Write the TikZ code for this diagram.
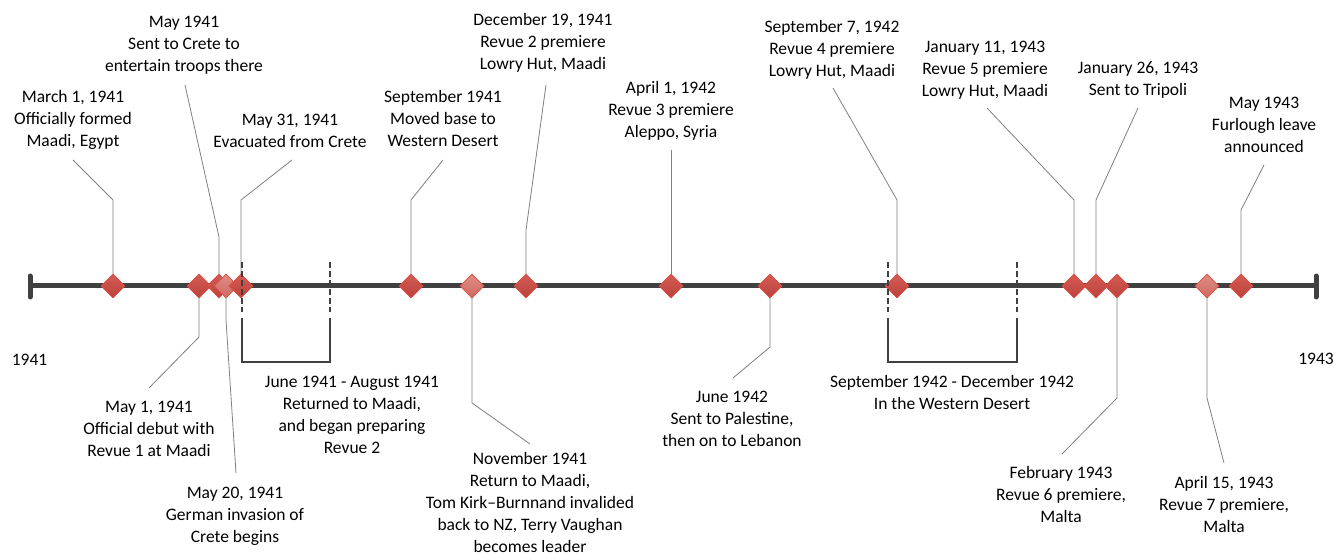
\documentclass[tikz,border=0pt]{standalone}
\usepackage{fontspec}
\setmainfont{Carlito}
\usetikzlibrary{shapes.geometric}
\definecolor{axisgray}{RGB}{64,64,64}
\definecolor{leadergray}{RGB}{128,128,128}
\definecolor{dmdline}{RGB}{222,76,66}
\definecolor{dmdtop}{RGB}{210,92,84}
\definecolor{dmdbot}{RGB}{188,66,60}
\definecolor{dmdltop}{RGB}{222,140,132}
\definecolor{dmdlbot}{RGB}{206,106,98}
\newcommand{\lblfont}{\fontsize{17.5}{22}\selectfont}
\tikzset{
  lbl/.style={font=\lblfont, align=center, inner sep=0pt, anchor=base, text=black},
  dmd/.style={diamond, minimum width=24pt, minimum height=24pt, inner sep=0pt, draw=dmdline, line width=0.8pt, top color=dmdtop, bottom color=dmdbot},
  dmdlight/.style={dmd, top color=dmdltop, bottom color=dmdlbot},
  leader/.style={draw=leadergray, line width=0.8pt},
  axisline/.style={draw=axisgray, line width=5pt},
  capline/.style={draw=axisgray, line width=5pt, line cap=round},
  bracketdash/.style={draw=axisgray, line width=1.4pt, dash pattern=on 6pt off 3pt},
  bracketline/.style={draw=axisgray, line width=1.4pt}
}
\begin{document}
\begin{tikzpicture}[x=1pt,y=-1pt]
\useasboundingbox[fill=white] (0,0) rectangle (1334,556);

% axis end points
\coordinate (L) at (30,286);
\coordinate (R) at (1316,286);
\coordinate (Lt) at (30,276);
\coordinate (Lb) at (30,297);
\coordinate (Rt) at (1316,276);
\coordinate (Rb) at (1316,297);

% elbows and tips of leaders
\coordinate (e1) at (113,200);  \coordinate (t1) at (73,160);
\coordinate (e3) at (219,237);  \coordinate (t3) at (185,85);
\coordinate (e5) at (241,200);  \coordinate (t5) at (292,160);
\coordinate (e6) at (411,200);  \coordinate (t6) at (443,160);
\coordinate (e8) at (526,230);  \coordinate (t8) at (546,85);
\coordinate (t9) at (671,150);
\coordinate (e11) at (897,200); \coordinate (t11) at (833,88);
\coordinate (e12) at (1074,200);\coordinate (t12) at (987,108);
\coordinate (e13) at (1096,200);\coordinate (t13) at (1138,108);
\coordinate (e16) at (1241,210);\coordinate (t16) at (1264,165);
\coordinate (e2) at (199,337);  \coordinate (t2) at (149,388);
\coordinate (e4) at (226,320);  \coordinate (t4) at (236,473);
\coordinate (e7) at (472,403);  \coordinate (t7) at (530,444);
\coordinate (e10) at (770,347); \coordinate (t10) at (733,378);
\coordinate (e14) at (1117,398);\coordinate (t14) at (1062,454);
\coordinate (e15) at (1207,398);\coordinate (t15) at (1224,463);

% diamond positions
\path (113,286) coordinate (p1) (199,286) coordinate (p2) (219,286) coordinate (p3)
      (226,286) coordinate (p4) (241,286) coordinate (p5) (411,286) coordinate (p6)
      (472,286) coordinate (p7) (526,286) coordinate (p8) (671,286) coordinate (p9)
      (770,286) coordinate (p10) (897,286) coordinate (p11) (1074,286) coordinate (p12)
      (1096,286) coordinate (p13) (1117,286) coordinate (p14) (1207,286) coordinate (p15)
      (1241,286) coordinate (p16);

% leaders
\draw[leader] (p1) -- (e1) -- (t1);
\draw[leader] (p3) -- (e3) -- (t3);
\draw[leader] (p5) -- (e5) -- (t5);
\draw[leader] (p6) -- (e6) -- (t6);
\draw[leader] (p8) -- (e8) -- (t8);
\draw[leader] (p9) -- (t9);
\draw[leader] (p11) -- (e11) -- (t11);
\draw[leader] (p12) -- (e12) -- (t12);
\draw[leader] (p13) -- (e13) -- (t13);
\draw[leader] (p16) -- (e16) -- (t16);
\draw[leader] (p2) -- (e2) -- (t2);
\draw[leader] (p4) -- (e4) -- (t4);
\draw[leader] (p7) -- (e7) -- (t7);
\draw[leader] (p10) -- (e10) -- (t10);
\draw[leader] (p14) -- (e14) -- (t14);
\draw[leader] (p15) -- (e15) -- (t15);

% axis
\draw[axisline] (L) -- (R);
\draw[capline] (Lt) -- (Lb);
\draw[capline] (Rt) -- (Rb);

% diamonds
\node[dmd] (d1) at (p1) {};
\node[dmd] (d2) at (p2) {};
\node[dmd] (d3) at (p3) {};
\node[dmdlight] (d4) at (p4) {};
\node[dmd] (d5) at (p5) {};
\node[dmd] (d6) at (p6) {};
\node[dmdlight] (d7) at (p7) {};
\node[dmd] (d8) at (p8) {};
\node[dmd] (d9) at (p9) {};
\node[dmd] (d10) at (p10) {};
\node[dmd] (d11) at (p11) {};
\node[dmd] (d12) at (p12) {};
\node[dmd] (d13) at (p13) {};
\node[dmd] (d14) at (p14) {};
\node[dmdlight] (d15) at (p15) {};
\node[dmd] (d16) at (p16) {};

% brackets
\coordinate (ba1) at (242,262); \coordinate (ba2) at (242,312); \coordinate (ba3) at (242,318);
\coordinate (ba4) at (242,362); \coordinate (ba5) at (330,362); \coordinate (ba6) at (330,318);
\coordinate (ba7) at (330,312); \coordinate (ba8) at (330,262);
\draw[bracketdash] (ba1) -- (ba2);
\draw[bracketdash] (ba8) -- (ba7);
\draw[bracketline] (ba3) -- (ba4) -- (ba5) -- (ba6);
\coordinate (bb1) at (888,262); \coordinate (bb2) at (888,312); \coordinate (bb3) at (888,318);
\coordinate (bb4) at (888,362); \coordinate (bb5) at (1017,362); \coordinate (bb6) at (1017,318);
\coordinate (bb7) at (1017,312); \coordinate (bb8) at (1017,262);
\draw[bracketdash] (bb1) -- (bb2);
\draw[bracketdash] (bb8) -- (bb7);
\draw[bracketline] (bb3) -- (bb4) -- (bb5) -- (bb6);

% labels above (anchor = baseline of last line)
\node[lbl] (l1) at (73,147) {March 1, 1941\\Officially formed\\Maadi, Egypt};
\node[lbl] (l3) at (184,72) {May 1941\\Sent to Crete to\\entertain troops there};
\node[lbl] (l5) at (290,148) {May 31, 1941\\Evacuated from Crete};
\node[lbl] (l6) at (443,147) {September 1941\\Moved base to\\Western Desert};
\node[lbl] (l8) at (543,70) {December 19, 1941\\Revue 2 premiere\\Lowry Hut, Maadi};
\node[lbl] (l9) at (671,138) {April 1, 1942\\Revue 3 premiere\\Aleppo, Syria};
\node[lbl] (l11) at (832,77) {September 7, 1942\\Revue 4 premiere\\Lowry Hut, Maadi};
\node[lbl] (l12) at (985,97) {January 11, 1943\\Revue 5 premiere\\Lowry Hut, Maadi};
\node[lbl] (l13) at (1138,96) {January 26, 1943\\Sent to Tripoli};
\node[lbl] (l16) at (1264,153) {May 1943\\Furlough leave\\announced};

% labels below
\node[lbl] (y1) at (29.5,365) {1941};
\node[lbl] (y2) at (1316,364) {1943};
\node[lbl] (l2) at (149,456) {May 1, 1941\\Official debut with\\Revue 1 at Maadi};
\node[lbl] (l4) at (235,542) {May 20, 1941\\German invasion of\\Crete begins};
\node[lbl] (lb1) at (352,453) {June 1941 - August 1941\\Returned to Maadi,\\and began preparing\\Revue 2};
\node[lbl] (l7) at (530,552) {November 1941\\Return to Maadi,\\Tom Kirk–Burnnand invalided\\back to NZ, Terry Vaughan\\becomes leader};
\node[lbl] (l10) at (732,446) {June 1942\\Sent to Palestine,\\then on to Lebanon};
\node[lbl] (lb2) at (952,409) {September 1942 - December 1942\\In the Western Desert};
\node[lbl] (l14) at (1061,522) {February 1943\\Revue 6 premiere,\\Malta};
\node[lbl] (l15) at (1224,532) {April 15, 1943\\Revue 7 premiere,\\Malta};
\end{tikzpicture}
\end{document}
